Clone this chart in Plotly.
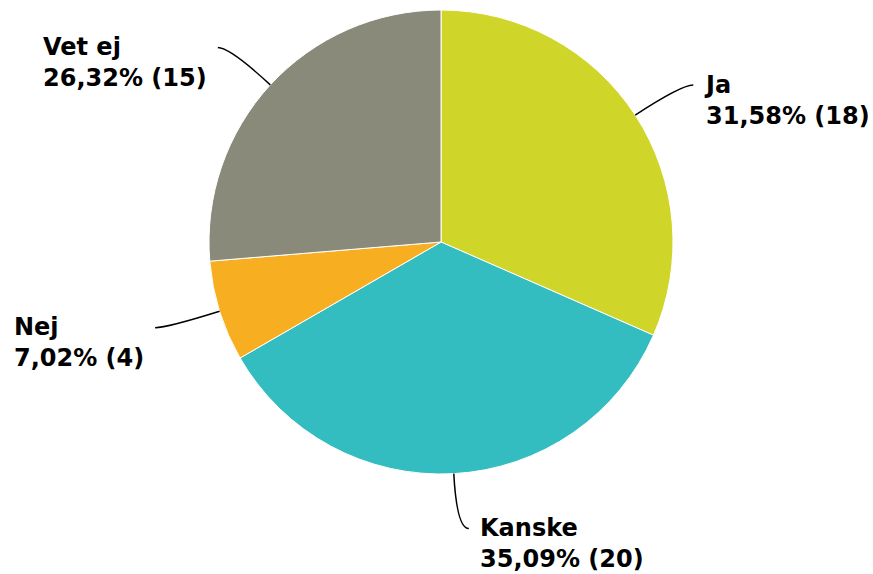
import math
import plotly.graph_objects as go

labels = ["Ja", "Kanske", "Nej", "Vet ej"]
counts = [18, 20, 4, 15]
colors = ["#d0d52a", "#33bdc0", "#f7ae21", "#898a79"]

W, H = 873, 574
cx, cy, R = 441, 242, 232
total = sum(counts)

fig = go.Figure()
fig.add_trace(go.Pie(
    labels=labels, values=counts, sort=False, direction="clockwise", rotation=0,
    marker=dict(colors=colors, line=dict(color="white", width=1)),
    textinfo="none", hoverinfo="label+value+percent", showlegend=False,
    domain=dict(x=[(cx - R) / W, (cx + R) / W], y=[(H - cy - R) / H, (H - cy + R) / H]),
))

shapes = []
annotations = []
cum = 0
for lab, c in zip(labels, counts):
    mid = (cum + c / 2) / total * 2 * math.pi
    cum += c
    dx, dy = math.sin(mid), -math.cos(mid)
    p0 = (cx + R * dx, cy + R * dy)
    p1 = (cx + (R + 55) * dx, cy + (R + 55) * dy)
    side = 1 if dx >= 0 else -1
    p2 = (p1[0] + 12 * side, p1[1])
    shapes.append(dict(type="path", xref="x", yref="y",
                       path=f"M {p0[0]},{p0[1]} Q {p1[0]},{p1[1]} {p2[0]},{p2[1]}",
                       line=dict(color="black", width=1.5)))
    pct = f"{c / total * 100:.2f}".replace(".", ",")
    annotations.append(dict(
        x=p2[0] + (9 if side > 0 else -9), y=p2[1] + 15, xref="x", yref="y",
        text=f"<b>{lab}<br>{pct}% ({c})</b>", showarrow=False,
        xanchor="left" if side > 0 else "right", yanchor="middle", align="left",
        font=dict(family="DejaVu Sans", size=24, color="black"),
    ))

fig.add_trace(go.Scatter(x=[], y=[], showlegend=False))
fig.update_layout(
    width=W, height=H, margin=dict(l=0, r=0, t=0, b=0),
    paper_bgcolor="white", plot_bgcolor="rgba(0,0,0,0)",
    xaxis=dict(range=[0, W], visible=False, domain=[0, 1], fixedrange=True),
    yaxis=dict(range=[H, 0], visible=False, domain=[0, 1], fixedrange=True),
    shapes=shapes, annotations=annotations,
)
fig.write_html("out.html", config={"displayModeBar": False},
               post_script="document.body.style.margin='0';")
